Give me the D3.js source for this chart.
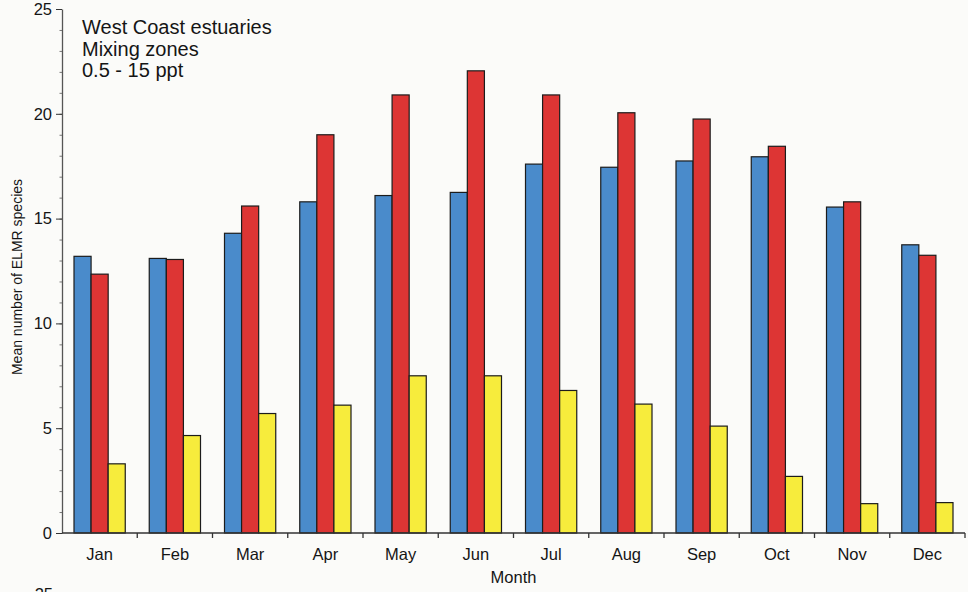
<!DOCTYPE html>
<html>
<head>
<meta charset="utf-8">
<script src="https://cdn.jsdelivr.net/npm/d3@7"></script>
<style>
  html, body { margin: 0; padding: 0; background: #fbfbf9; }
  svg { display: block; font-family: "Liberation Sans", Arial, Helvetica, sans-serif; }
</style>
</head>
<body>
<svg id="chart" width="968" height="592"></svg>
<script>
// Monthly mean number of ELMR species, West Coast estuary mixing zones
const months = ["Jan", "Feb", "Mar", "Apr", "May", "Jun", "Jul", "Aug", "Sep", "Oct", "Nov", "Dec"];
const seriesNames = ["blue", "red", "yellow"];
const blueValues   = [13.2, 13.1, 14.3, 15.8, 16.1, 16.25, 17.6, 17.45, 17.75, 17.95, 15.55, 13.75];
const redValues    = [12.35, 13.05, 15.6, 19.0, 20.9, 22.05, 20.9, 20.05, 19.75, 18.45, 15.8, 13.25];
const yellowValues = [3.3, 4.65, 5.7, 6.1, 7.5, 7.5, 6.8, 6.15, 5.1, 2.7, 1.4, 1.45];
const yTicks = [0, 5, 10, 15, 20, 25];
const titleLines = ["West Coast estuaries", "Mixing zones", "0.5 - 15 ppt"];

const colors = { blue: "#4a8bcb", red: "#dd3534", yellow: "#f7ec3c" };
const valuesBySeries = { blue: blueValues, red: redValues, yellow: yellowValues };

const svg = d3.select("#chart");
const plot = { left: 62, right: 965, top: 9, bottom: 533 };

const x = d3.scaleBand().domain(months).range([plot.left, plot.right]).padding(0);
const x1 = d3.scaleBand().domain(seriesNames).range([12, x.bandwidth() - 12]).padding(0);
const y = d3.scaleLinear().domain([0, 25]).range([plot.bottom, plot.top]);

// bars
const groups = svg.append("g").selectAll("g")
  .data(months)
  .join("g")
  .attr("transform", d => `translate(${x(d)},0)`);

groups.selectAll("rect")
  .data((m, i) => seriesNames.map(s => ({ s, v: valuesBySeries[s][i] })))
  .join("rect")
  .attr("x", d => x1(d.s))
  .attr("y", d => y(d.v))
  .attr("width", x1.bandwidth())
  .attr("height", d => y(0) - y(d.v))
  .attr("fill", d => colors[d.s])
  .attr("stroke", "#1c1c1c")
  .attr("stroke-width", 1.2);

// y axis with minor ticks
const yMinor = svg.append("g")
  .attr("transform", `translate(${plot.left},0)`)
  .call(d3.axisLeft(y).tickValues(d3.range(0, 26, 1)).tickSize(2.5).tickFormat(""));
yMinor.select(".domain").remove();
yMinor.selectAll("line").attr("stroke", "#777");

const yAxis = svg.append("g")
  .attr("transform", `translate(${plot.left},0)`)
  .call(d3.axisLeft(y).tickValues(yTicks).tickSize(6).tickPadding(4).tickSizeOuter(0));
yAxis.select(".domain").attr("stroke", "#555").attr("stroke-width", 1.3);
yAxis.selectAll(".tick line").attr("stroke", "#333");
yAxis.selectAll(".tick text").attr("fill", "#151515").attr("font-size", 16.5)
  .attr("font-family", "Liberation Sans, Arial, sans-serif");

// x axis: ticks at month boundaries, labels centred on months
const boundaries = d3.range(1, months.length + 1).map(i => plot.left + i * x.bandwidth());
const xAxisG = svg.append("g");
xAxisG.append("line")
  .attr("x1", plot.left).attr("x2", plot.right)
  .attr("y1", y(0)).attr("y2", y(0))
  .attr("stroke", "#333").attr("stroke-width", 1.4);
xAxisG.selectAll("line.bt")
  .data(boundaries)
  .join("line")
  .attr("class", "bt")
  .attr("x1", d => d).attr("x2", d => d)
  .attr("y1", y(0)).attr("y2", y(0) + 5)
  .attr("stroke", "#333").attr("stroke-width", 1.3);
xAxisG.selectAll("text")
  .data(months)
  .join("text")
  .attr("x", d => x(d) + x.bandwidth() / 2)
  .attr("y", y(0) + 27)
  .attr("text-anchor", "middle")
  .attr("font-size", 16.5)
  .attr("fill", "#151515")
  .text(d => d);

// axis titles
svg.append("text")
  .attr("x", (plot.left + plot.right) / 2)
  .attr("y", 583)
  .attr("text-anchor", "middle")
  .attr("font-size", 16.5)
  .attr("fill", "#151515")
  .text("Month");

svg.append("text")
  .attr("transform", `translate(22,${(plot.top + plot.bottom) / 2 + 6}) rotate(-90)`)
  .attr("text-anchor", "middle")
  .attr("font-size", 14)
  .attr("fill", "#151515")
  .text("Mean number of ELMR species");

// panel caption
svg.append("g").selectAll("text")
  .data(titleLines)
  .join("text")
  .attr("x", 82)
  .attr("y", (d, i) => 34 + i * 21.5)
  .attr("font-size", 20)
  .attr("fill", "#151515")
  .text(d => d);

// top tick label of the following panel, just below this one
svg.append("text")
  .attr("x", 53).attr("y", 600)
  .attr("text-anchor", "end")
  .attr("font-size", 16.5)
  .attr("fill", "#151515")
  .text("25");
</script>
</body>
</html>
